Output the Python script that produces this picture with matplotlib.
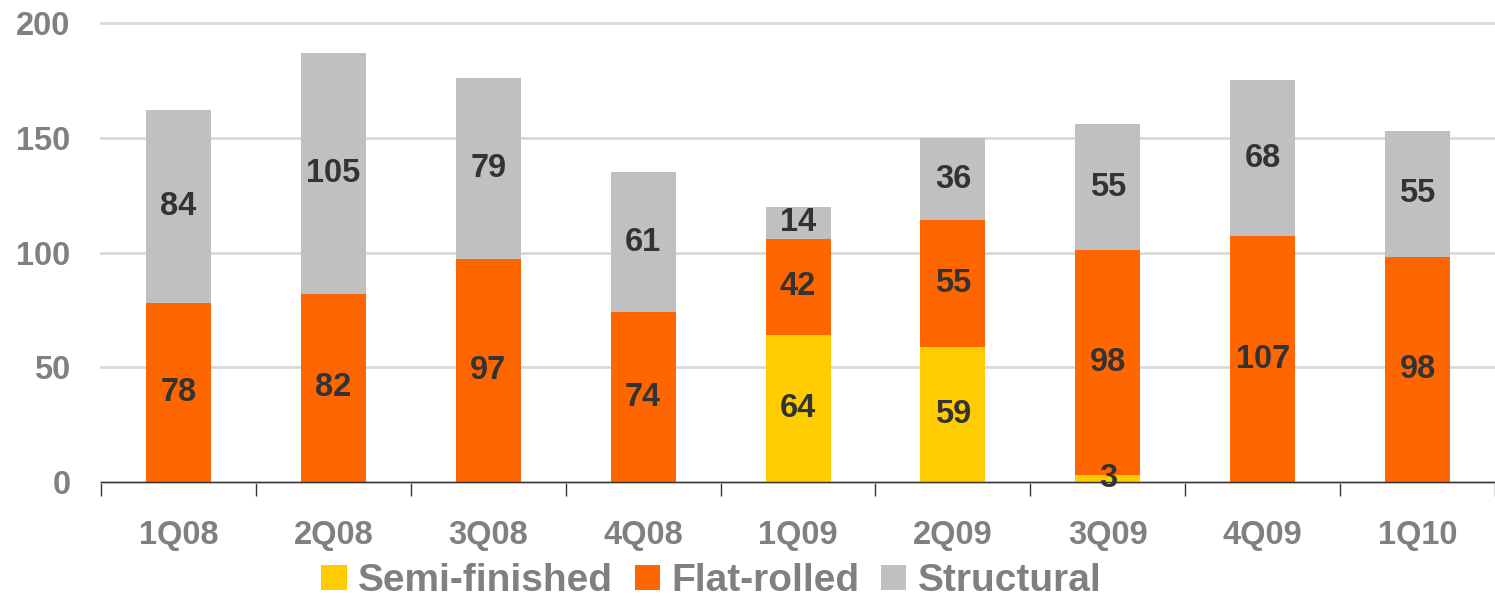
import numpy as np
import matplotlib.pyplot as plt
from matplotlib.patches import Patch

plt.rcParams['font.family'] = ['Liberation Sans', 'DejaVu Sans']
plt.rcParams['font.weight'] = 'bold'

quarters = ['1Q08', '2Q08', '3Q08', '4Q08', '1Q09', '2Q09', '3Q09', '4Q09', '1Q10']
semi = [0, 0, 0, 0, 64, 59, 3, 0, 0]
flat = [78, 82, 97, 74, 42, 55, 98, 107, 98]
struct = [84, 105, 79, 61, 14, 36, 55, 68, 55]

names = ['Semi-finished', 'Flat-rolled', 'Structural']
colors = ['#FFCC00', '#FF6600', '#C0C0C0']

fig = plt.figure(figsize=(14.95, 6.01), dpi=100)
ax = fig.add_axes([0.0676, 0.198, 0.9324, 0.7637])

x = np.arange(len(quarters))
w = 0.42
bottom = np.zeros(len(quarters))
for vals, c in zip([semi, flat, struct], colors):
    vals = np.array(vals, dtype=float)
    ax.bar(x, vals, w, bottom=bottom, color=c, zorder=2)
    for xi, b, v in zip(x, bottom, vals):
        if v > 0:
            ax.text(xi, b + v / 2, '%d' % v, ha='center', va='center',
                    fontsize=23.5, fontweight='bold', color='#333333', zorder=3)
    bottom += vals

ax.set_ylim(0, 200)
ax.set_xlim(-0.5, 8.44)
ax.set_yticks([0, 50, 100, 150, 200])
ax.yaxis.grid(True, color='#D9D9D9', linewidth=2, zorder=0)
ax.set_axisbelow(True)
for gl in ax.get_ygridlines():
    gl.set_clip_on(False)

ax.set_xticks(x)
ax.set_xticklabels(quarters)
ax.set_xticks(np.arange(-0.5, 9, 1), minor=True)
ax.tick_params(axis='x', which='major', length=0, pad=27, labelsize=23.5,
               labelcolor='#808080')
ax.tick_params(axis='x', which='minor', length=10, width=1, color='#333333',
               direction='out')
ax.tick_params(axis='y', length=0, pad=22, labelsize=23.5, labelcolor='#808080')

for s in ['top', 'right', 'left']:
    ax.spines[s].set_visible(False)
ax.spines['bottom'].set_color('#333333')
ax.spines['bottom'].set_linewidth(1)
ax.spines['bottom'].set_zorder(4)

handles = [Patch(facecolor=c, edgecolor='none') for c in colors]
fig.legend(handles, names, loc='center', bbox_to_anchor=(0.476, 0.033),
           ncol=3, frameon=False, handlelength=0.65,
           handleheight=0.62, handletextpad=0.3, columnspacing=0.55,
           borderpad=0, labelcolor='#808080', prop={'weight': 'bold', 'size': 28})

fig.savefig('out.png', dpi=100)
